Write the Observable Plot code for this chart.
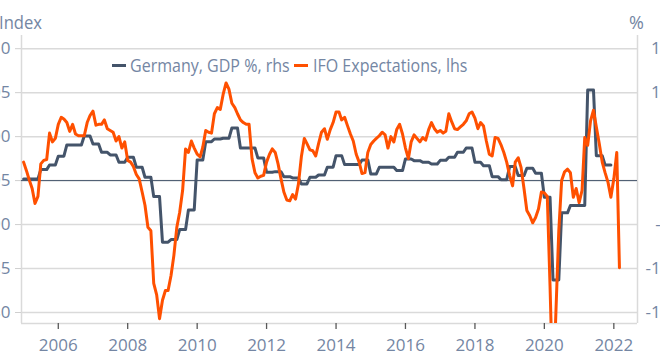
<!DOCTYPE html>
<html>
<head>
<meta charset="utf-8">
<script src="https://cdn.jsdelivr.net/npm/d3@7"></script>
<script src="https://cdn.jsdelivr.net/npm/@observablehq/plot@0.6"></script>
<style>
  html, body { margin: 0; padding: 0; background: #fff; overflow: hidden; }
  #wrap { position: relative; width: 660px; height: 363px; font-family: "Open Sans", sans-serif; }
  .t { position: absolute; color: #7486a3; font-size: 18px; line-height: 18px; white-space: nowrap; transform-origin: left center; }
  .sw { position: absolute; height: 3px; }
</style>
</head>
<body>
<div id="wrap"></div>
<script>
// IFO Expectations (index, lhs), monthly from Jan 2005 to Mar 2022
const ifoStart = [2005, 0];
const ifoExpectations = [
  97.1, 96.1, 95.1, 94.1, 92.4, 93.2, 96.9, 97.3, 97.4, 100.4, 99.4, 99.8,
  101.4, 102.2, 102.0, 101.6, 100.6, 101.4, 100.3, 100.1, 100.1, 100.1, 101.6, 102.4,
  102.9, 101.3, 101.4, 101.4, 101.9, 100.9, 100.7, 100.5, 99.5, 100.0, 98.7, 99.4,
  97.3, 97.1, 96.6, 95.7, 95.2, 93.7, 92.2, 89.7, 89.3, 83.3, 82.0, 79.3,
  81.4, 82.5, 82.5, 84.2, 86.5, 89.7, 91.4, 93.9, 98.6, 98.2, 99.5, 98.7,
  98.0, 97.7, 98.8, 100.7, 100.5, 100.4, 102.6, 103.3, 103.1, 104.8, 106.1, 105.4,
  103.8, 103.3, 102.6, 101.9, 101.6, 101.4, 101.4, 97.5, 95.9, 95.3, 95.5, 95.6,
  97.1, 98.0, 98.6, 98.2, 96.9, 95.2, 93.7, 92.8, 92.7, 93.4, 92.9, 94.6,
  97.7, 99.8, 99.2, 98.5, 98.4, 97.8, 99.2, 100.5, 100.9, 99.7, 100.8, 101.6,
  102.8, 102.8, 101.9, 102.2, 101.25, 100.3, 99.5, 98.0, 97.1, 95.8, 95.9, 98.2,
  99.1, 99.5, 99.8, 100.1, 100.5, 100.2, 98.7, 100.0, 99.4, 100.8, 101.4, 100.3,
  98.7, 97.5, 99.4, 100.2, 99.8, 99.4, 99.9, 99.6, 100.8, 101.6, 100.9, 100.5,
  100.7, 100.4, 100.6, 102.6, 101.7, 100.9, 100.8, 101.1, 101.4, 101.8, 102.6, 102.8,
  102.1, 100.9, 101.6, 101.2, 99.5, 98.0, 97.8, 99.9, 99.8, 99.1, 98.2, 97.1,
  95.6, 94.4, 97.1, 97.6, 96.5, 94.1, 91.6, 91.0, 90.2, 90.8, 91.8, 93.7,
  93.6, 93.2, 83.0, 70.5, 79.8, 89.3, 95.0, 96.0, 96.3, 95.9, 93.1, 94.1,
  92.5, 93.9, 99.9, 99.0, 101.8, 103.0, 101.1, 99.2, 97.1, 95.9, 94.8, 93.1,
  95.2, 98.2, 85.1
];

// Germany GDP % y/y (rhs), quarterly from Q1 2005 to Q4 2021
const gdpStart = [2005, 0];
const gdpYoY = [
  0.19, 0.19, 1.25, 1.78, 2.77, 4.05, 4.05, 5.08,
  4.17, 3.22, 2.92, 2.08, 2.65, 1.52, 0.38, -1.82,
  -7.0, -6.7, -5.57, -3.33, 2.35, 4.43, 4.73, 4.81,
  5.98, 3.71, 3.71, 2.58, 0.95, 1.02, 0.45, 0.30,
  -0.38, 0.38, 0.64, 1.52, 2.84, 1.82, 1.82, 2.35,
  0.76, 1.52, 1.52, 1.14, 2.46, 2.27, 2.08, 1.89,
  2.3, 2.65, 3.22, 3.71, 2.08, 1.70, 0.45, 0.11,
  1.59, 0.57, 1.40, 0.83, -1.89, -11.29, -3.67, -2.84,
  -2.84, 10.3, 2.84, 1.78
];

const leftTicks = [80, 85, 90, 95, 100, 105, 110];
const rightOffset = 95; // rhs 0 % aligned with lhs 95
const xTickYears = [2006, 2008, 2010, 2012, 2014, 2016, 2018, 2020, 2022];

const seriesNames = ["Germany, GDP %, rhs", "IFO Expectations, lhs"];
const seriesColors = ["#44546a", "#ff5000"];

// build tables
const ifoData = ifoExpectations.map((v, i) => ({date: new Date(Date.UTC(ifoStart[0], ifoStart[1] + i, 1)), v}));
const gdpData = [];
gdpYoY.forEach((v, q) => {
  for (let k = 0; k < 3; k++) gdpData.push({date: new Date(Date.UTC(gdpStart[0], gdpStart[1] + q * 3 + k, 1)), v: v + rightOffset});
});

const xDomain = [new Date(Date.UTC(2004, 11, 10)), new Date(Date.UTC(2022, 8, 7))];
const xTicks = xTickYears.map(y => new Date(Date.UTC(y, 0, 1)));
const textColor = "#7486a3";
const gridColor = "#dadada";

const chart = Plot.plot({
  width: 660,
  height: 363,
  marginLeft: 21,
  marginRight: 23,
  marginTop: 35,
  marginBottom: 40,
  style: {fontFamily: "'Open Sans', sans-serif", fontSize: "17px", background: "white"},
  x: {type: "utc", domain: xDomain},
  y: {domain: [78.75, 111.5]},
  marks: [
    Plot.ruleY(leftTicks, {stroke: gridColor, strokeWidth: 1.5}),
    Plot.ruleX(xDomain, {stroke: gridColor, strokeWidth: 1.5}),
    Plot.ruleY([78.75], {stroke: gridColor, strokeWidth: 1.5}),
    Plot.ruleY([rightOffset], {stroke: "#44546a", strokeWidth: 1}),
    Plot.axisY({anchor: "left", ticks: leftTicks, tickSize: 6, tickPadding: 5, stroke: "#cfcfcf", fill: textColor, label: null, fontSize: 17}),
    Plot.axisY({anchor: "right", ticks: leftTicks, tickFormat: d => String(d - rightOffset), tickSize: 5, tickPadding: 3, textAnchor: "end", dx: 25, stroke: "#cfcfcf", fill: textColor, label: null, fontSize: 17}),
    Plot.axisX({ticks: xTicks, tickFormat: d3.utcFormat("%Y"), tickSize: 6, tickPadding: 9, stroke: "#595959", strokeWidth: 1.3, fill: textColor, label: null, fontSize: 17}),
    Plot.line(gdpData, {x: "date", y: "v", stroke: seriesColors[0], strokeWidth: 3, clip: true}),
    Plot.line(ifoData, {x: "date", y: "v", stroke: seriesColors[1], strokeWidth: 3, clip: true})
  ]
});

const wrap = document.getElementById("wrap");
wrap.appendChild(chart);

function addText(txt, left, top, scale) {
  const d = document.createElement("div");
  d.className = "t";
  d.textContent = txt;
  d.style.left = left + "px";
  d.style.top = top + "px";
  if (scale) d.style.transform = `scaleX(${scale})`;
  wrap.appendChild(d);
}
function addSwatch(color, left, top, w) {
  const s = document.createElement("div");
  s.className = "sw";
  s.style.background = color;
  s.style.left = left + "px";
  s.style.top = top + "px";
  s.style.width = w + "px";
  wrap.appendChild(s);
}
addText("Index", -1, 13.3, 0.92);
addText("%", 629, 13.3, 1);
addSwatch(seriesColors[0], 112, 63.5, 14);
addText(seriesNames[0], 129.5, 56.3, 0.89);
addSwatch(seriesColors[1], 294, 63.5, 14);
addText(seriesNames[1], 312.5, 56.3, 0.89);
</script>
</body>
</html>
